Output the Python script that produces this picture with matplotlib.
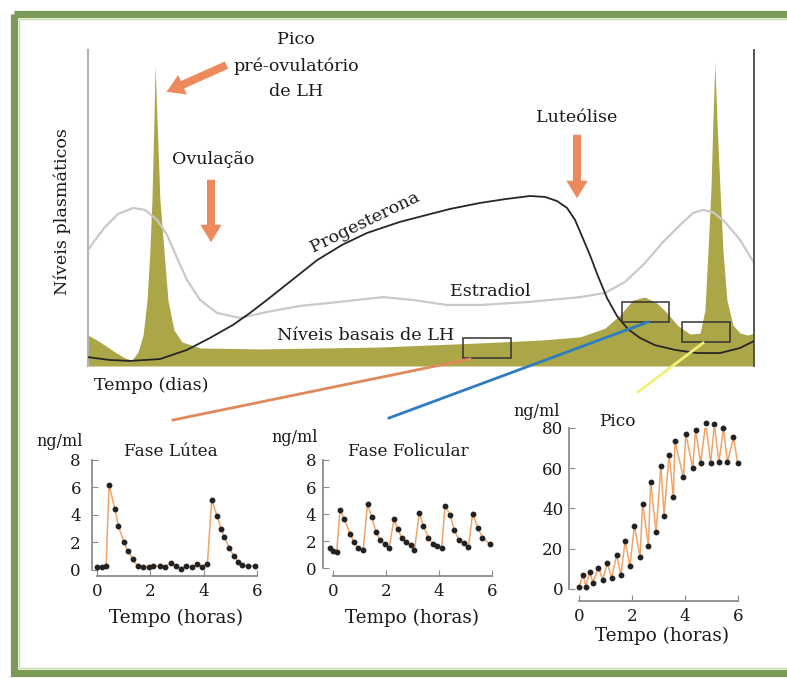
import numpy as np
import matplotlib
matplotlib.use("Agg")
import matplotlib.pyplot as plt
from matplotlib.patches import Rectangle

plt.rcParams['font.family'] = ['DejaVu Serif']

# ciclo (dias 0-30, nivel relativo 0-100)
lh_dias = [0, 0.54, 1.22, 1.67, 1.98, 2.25, 2.48, 2.66, 2.79, 2.88, 2.97, 3.02, 3.11, 3.24,
           3.42, 3.6, 3.87, 4.23, 5.05, 7.75, 13.15, 17.66, 20.36, 22.16, 23.29, 23.96,
           24.55, 25.09, 25.63, 26.08, 26.58, 27.12, 27.57, 27.79, 27.93, 28.06, 28.15,
           28.24, 28.33, 28.47, 28.6, 28.78, 29.05, 29.37, 29.73, 30]
lh = [9.8, 7.6, 4.4, 2.5, 1.9, 4.4, 9.8, 20.9, 36.7, 52.5, 77.8, 95.3, 77.8, 52.5,
      36.7, 20.9, 11.4, 7.6, 5.7, 5.4, 6.0, 7.3, 8.2, 9.2, 12.0, 16.1,
      20.9, 21.8, 19.9, 16.8, 12.7, 10.1, 10.4, 17.7, 36.7, 55.7, 77.8,
      95.9, 77.8, 55.7, 36.7, 20.9, 13.0, 10.4, 9.8, 10.4]

prog_dias = [0, 0.99, 1.89, 3.24, 4.46, 5.5, 6.53, 7.3, 8.06, 9.19, 10.32, 11.44, 12.57,
             14.05, 15.09, 16.31, 17.66, 18.78, 19.91, 20.59, 21.13, 21.58, 21.94, 22.25,
             22.61, 22.97, 23.38, 23.83, 24.32, 24.86, 25.54, 26.44, 27.43, 28.47, 29.37, 30]
prog = [2.8, 1.9, 1.6, 2.2, 5.1, 8.9, 13.0, 16.8, 20.9, 27.2, 33.5, 38.3, 42.1,
        45.6, 47.5, 49.7, 51.6, 52.8, 53.8, 53.5, 52.2, 50.0, 46.2, 41.1,
        35.1, 28.5, 21.5, 15.8, 11.7, 8.9, 6.6, 5.1, 4.1, 4.1, 5.7, 7.9]

estr_dias = [0, 0.32, 0.77, 1.35, 2.03, 2.57, 3.11, 3.56, 4.01, 4.46, 5.05, 5.81, 6.85, 8.06,
             9.55, 11.35, 13.29, 14.64, 16.17, 17.66, 19.91, 22.16, 23.29, 24.19, 25.09,
             25.9, 26.67, 27.25, 27.7, 28.15, 28.69, 29.37, 30]
estr = [36.7, 39.9, 44.0, 48.1, 50.0, 49.4, 46.2, 41.5, 34.2, 27.2, 20.9, 16.8, 15.2, 17.1,
        19.0, 20.3, 21.8, 20.9, 19.3, 19.3, 20.3, 21.8, 23.1, 26.6, 32.6,
        39.2, 44.6, 48.4, 49.4, 48.7, 45.6, 39.9, 32.6]

# pulsos de LH (horas, ng/ml)
lut_t = [0.0, 0.17, 0.34, 0.45, 0.67, 0.8, 1.01, 1.15, 1.34, 1.52, 1.71, 1.93, 2.11, 2.36,
         2.55, 2.76, 2.95, 3.14, 3.34, 3.55, 3.76, 3.95, 4.14, 4.3, 4.51, 4.65, 4.78, 4.96,
         5.14, 5.3, 5.45, 5.67, 5.92]
lut_v = [0.25, 0.25, 0.3, 6.2, 4.4, 3.2, 2.0, 1.4, 0.8, 0.3, 0.2, 0.2, 0.3, 0.3,
         0.25, 0.5, 0.3, 0.1, 0.3, 0.2, 0.4, 0.25, 0.45, 5.1, 3.9, 3.0, 2.4, 1.6,
         1.0, 0.6, 0.35, 0.3, 0.3]

fol_t = [-0.11, 0.0, 0.14, 0.26, 0.43, 0.64, 0.79, 0.96, 1.14, 1.3, 1.46, 1.62, 1.77, 1.96,
         2.12, 2.3, 2.44, 2.59, 2.75, 2.93, 3.07, 3.26, 3.41, 3.6, 3.76, 3.91, 4.1, 4.23,
         4.42, 4.57, 4.75, 4.94, 5.11, 5.27, 5.46, 5.64, 5.92]
fol_v = [1.45, 1.27, 1.2, 4.3, 3.6, 2.55, 1.9, 1.45, 1.37, 4.75, 3.77, 2.67, 2.1, 1.76,
         1.52, 3.6, 2.87, 2.26, 1.94, 1.7, 1.37, 4.07, 3.1, 2.26, 1.81, 1.62, 1.52, 4.63,
         3.9, 2.84, 2.1, 1.86, 1.57, 4.0, 3.0, 2.26, 1.76]

pico_t = [-0.02, 0.16, 0.25, 0.41, 0.52, 0.73, 0.89, 1.07, 1.23, 1.42, 1.58, 1.74, 1.92,
          2.09, 2.3, 2.4, 2.62, 2.7, 2.91, 3.09, 3.21, 3.4, 3.56, 3.62, 3.94, 4.03, 4.29,
          4.4, 4.59, 4.78, 4.97, 5.11, 5.28, 5.45, 5.6, 5.83, 5.99]
pico_v = [0.8, 7.0, 1.2, 8.6, 3.1, 10.6, 4.5, 12.8, 5.3, 16.9, 7.0, 24.0, 11.4,
          31.5, 15.8, 42.3, 21.5, 53.4, 28.2, 61.3, 36.5, 66.7, 45.6, 73.3, 55.4, 77.1, 60.0,
          79.1, 62.5, 82.4, 62.8, 81.9, 63.0, 79.9, 63.0, 75.3, 62.5]

W, H = 787, 678
fig = plt.figure(figsize=(W / 100, H / 100), dpi=100)
fig.patch.set_facecolor('white')


def box(l, t, r, b):
    # pixel box -> figure fraction
    return [l / W, 1 - b / H, (r - l) / W, (b - t) / H]


olive = '#aba648'
ink = '#1a1a1a'

# grafico principal
ax = fig.add_axes(box(88, 50, 754, 366))
ax.set_xlim(0, 30)
ax.set_ylim(0, 100)
ax.fill_between(lh_dias, 0, lh, color=olive, lw=0, zorder=1)
ax.plot(estr_dias, estr, color='#c9c9c9', lw=1.6, zorder=2)
ax.plot(prog_dias, prog, color='#262626', lw=1.3, zorder=3)
ax.set_xticks([])
ax.set_yticks([])
ax.spines['top'].set_visible(False)
ax.spines['bottom'].set_visible(False)
ax.spines['left'].set_color('#b5b5b5')
ax.spines['left'].set_linewidth(1.5)
ax.spines['right'].set_color('#555555')
ax.spines['right'].set_linewidth(1.4)
ax.patch.set_alpha(0)


def inset(rect, xlim, ylim, yticks, t, v, ypad):
    a = fig.add_axes(box(*rect))
    a.set_xlim(*xlim)
    a.set_ylim(*ylim)
    a.plot(t, v, color='#f0a468', lw=1.1, zorder=2)
    a.plot(t, v, 'o', color='#222222', ms=3.2, zorder=3, clip_on=False)
    a.spines['top'].set_visible(False)
    a.spines['right'].set_visible(False)
    for s in ('left', 'bottom'):
        a.spines[s].set_color('#8c8c8c')
        a.spines[s].set_linewidth(1.3)
    a.spines['left'].set_bounds(yticks[0], yticks[-1])
    a.spines['bottom'].set_bounds(0, 6)
    a.set_xticks([0, 2, 4, 6])
    a.set_yticks(yticks)
    a.tick_params(axis='both', direction='in', length=4, color='#8c8c8c', labelsize=12,
                  labelcolor=ink)
    a.tick_params(axis='y', pad=ypad)
    a.tick_params(axis='x', pad=5)
    a.patch.set_alpha(0)
    return a


inset((92, 460, 257, 576), (-0.19, 6.0), (-0.44, 8), [0, 2, 4, 6, 8], lut_t, lut_v, 8)
inset((323, 460, 492, 576), (-0.38, 6.0), (-0.59, 8), [0, 2, 4, 6, 8], fol_t, fol_v, 5)
inset((569, 428, 738, 601), (-0.38, 6.0), (-6, 80), [0, 20, 40, 60, 80], pico_t, pico_v, 4)

# camada de anotacoes em pixels
ov = fig.add_axes([0, 0, 1, 1])
ov.set_xlim(0, W)
ov.set_ylim(H, 0)
ov.axis('off')
ov.set_zorder(10)

ov.add_patch(Rectangle((13.5, 14), 800, 658.5, fill=False, ec='#7b9a58', lw=5.2))
ov.add_patch(Rectangle((18.5, 19), 800, 648.5, fill=False, ec='#c4dca4', lw=1.0))


def txt(x, y, s, size=12.6, **kw):
    ov.text(x, y, s, ha='center', va='center', fontsize=size, color=ink, **kw)


txt(296, 40, 'Pico')
txt(296, 66, 'pré-ovulatório')
txt(296, 92, 'de LH')
txt(213, 160, 'Ovulação')
txt(577, 118, 'Luteólise')
txt(490, 292, 'Estradiol')
txt(366, 335, 'Níveis basais de LH')
txt(151, 386, 'Tempo (dias)')
txt(62, 212, 'Níveis plasmáticos', rotation=90)
txt(365, 222, 'Progesterona', rotation=26)

txt(60, 441, 'ng/ml', size=11.5)
txt(171, 452, 'Fase Lútea', size=12.2)
txt(295, 437, 'ng/ml', size=11.5)
txt(408, 452, 'Fase Folicular', size=12.2)
txt(537, 412, 'ng/ml', size=11.5)
txt(617, 421, 'Pico', size=12.2)
txt(176, 618, 'Tempo (horas)', size=13.2)
txt(412, 618, 'Tempo (horas)', size=13.2)
txt(662, 636, 'Tempo (horas)', size=13.2)

arrow = dict(arrowstyle='simple,head_length=0.7,head_width=0.85,tail_width=0.32',
             color='#ec8a5e', lw=0, mutation_scale=18)
ov.annotate('', xy=(164, 93), xytext=(229, 64), arrowprops=arrow)
ov.annotate('', xy=(211, 245), xytext=(211, 177), arrowprops=arrow)
ov.annotate('', xy=(577, 201), xytext=(577, 132), arrowprops=arrow)

for l, t, r, b in [(463, 338, 511, 358), (622, 302, 669, 322), (682, 322, 730, 342)]:
    ov.add_patch(Rectangle((l, t), r - l, b - t, fill=False, ec='#333333', lw=1.1))

ov.plot([173, 470], [420, 359], color='#e0895c', lw=2)
ov.plot([389, 648], [418, 322], color='#2f7cc0', lw=2)
ov.plot([638, 703], [392, 343], color='#f2f07a', lw=2)

fig.savefig('out.png', dpi=100)
